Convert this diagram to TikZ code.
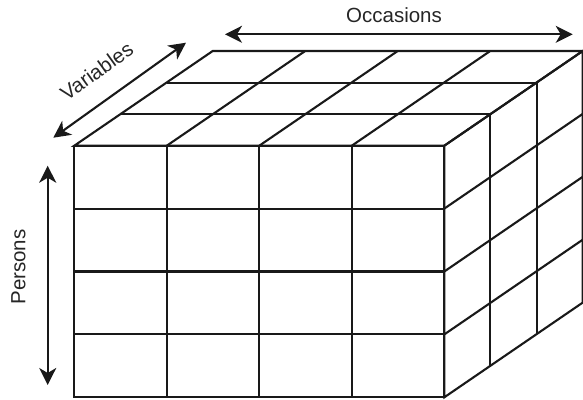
\documentclass[tikz,border=0pt]{standalone}
\usepackage{fontspec}
\setmainfont{Liberation Sans}
\usetikzlibrary{arrows.meta,calc}
\begin{document}
\begin{tikzpicture}[x=1pt,y=-1pt,
  edge/.style={line width=2.1pt, black!90, line join=miter},
  axis/.style={line width=2.1pt, black!90,
    {Stealth[length=17pt,width=17pt,inset=5pt]}-{Stealth[length=17pt,width=17pt,inset=5pt]}},
  lbl/.style={font=\fontsize{20.5}{24}\selectfont, inner sep=0pt, text=black!85}]
\useasboundingbox (0,0) rectangle (583,399);

% front top-left corner of the data box; cells are 92.5 wide, 62.9 high,
% and the depth vector is split into three layers
\coordinate (F) at (74.3,145.7);

% front face
\draw[edge] (F) rectangle ++(370,251.6);
\foreach \i in {1,2,3}
  \draw[edge] ($(F)+(\i*92.5,0)$) -- ++(0,251.6);
\foreach \j in {1,2,3}
  \draw[edge] ($(F)+(0,\j*62.9)$) -- ++(370,0);

% top face
\draw[edge] (F) -- ++(138.4,-94.7) -- ++(370,0) -- ++(-138.4,94.7) -- cycle;
\foreach \i in {1,2,3}
  \draw[edge] ($(F)+(\i*92.5,0)$) -- ++(138.4,-94.7);
\foreach \k in {1,2}
  \draw[edge] ($(F)+(\k*46.133,-\k*31.567)$) -- ++(370,0);

% right face
\draw[edge] ($(F)+(370,0)$) -- ++(138.4,-94.7) -- ++(0,251.6) -- ++(-138.4,94.7) -- cycle;
\foreach \k in {1,2}
  \draw[edge] ($(F)+(370+\k*46.133,-\k*31.567)$) -- ++(0,251.6);
\foreach \j in {1,2,3}
  \draw[edge] ($(F)+(370,\j*62.9)$) -- ++(138.4,-94.7);

% axes
\coordinate (occL) at (225,34.3);
\coordinate (occR) at (572.7,34.3);
\draw[axis] (occL) -- (occR);
\node[lbl] (occ) at (394,15) {Occasions};

\coordinate (varA) at (53.3,137.7);
\coordinate (varB) at (186,42.7);
\draw[axis] (varA) -- (varB);
\node[lbl, rotate=35.6] (var) at (96.7,71) {Variables};

\coordinate (perT) at (47.7,165.7);
\coordinate (perB) at (47.7,385);
\draw[axis] (perT) -- (perB);
\node[lbl, rotate=90] (per) at (18.3,267) {Persons};
\end{tikzpicture}
\end{document}
